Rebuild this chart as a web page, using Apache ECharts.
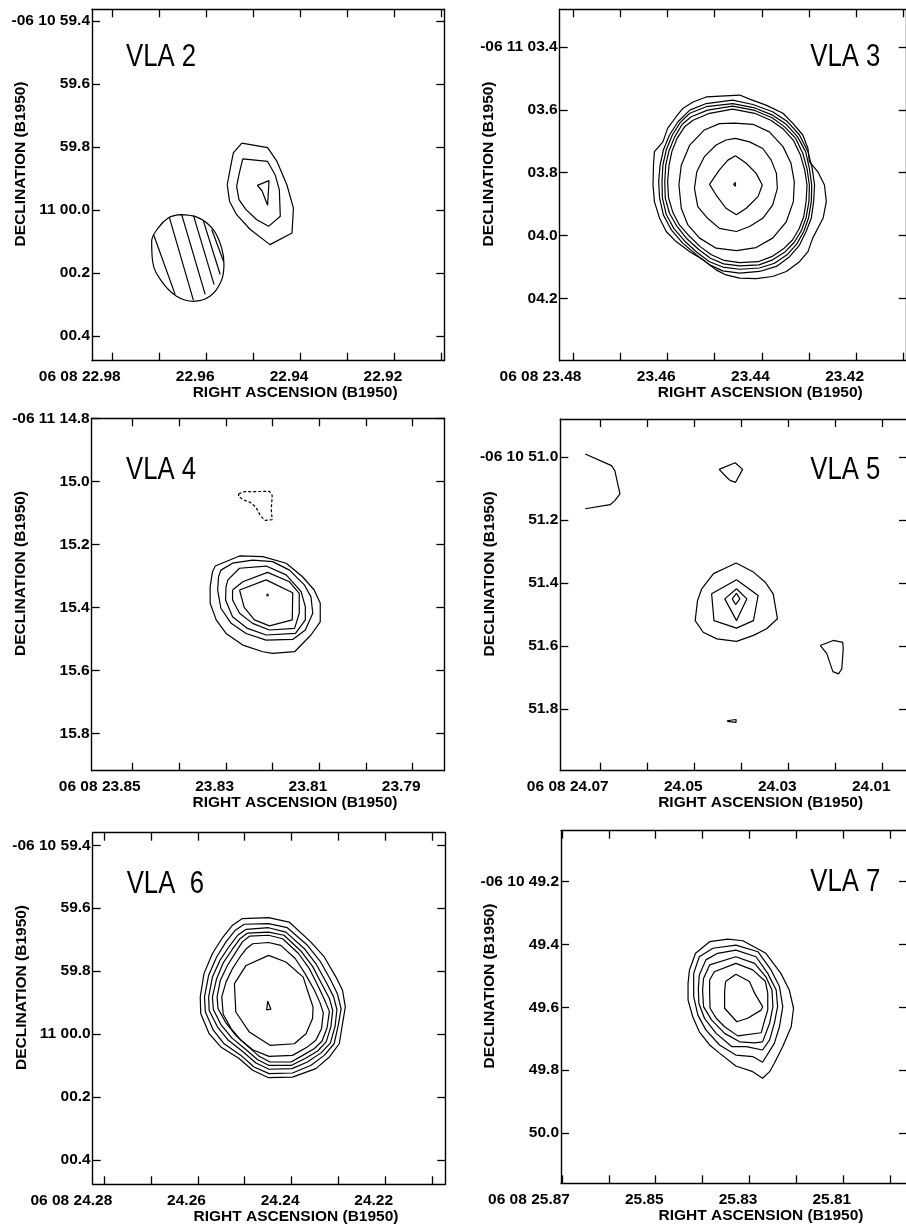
<!DOCTYPE html>
<html><head><meta charset="utf-8">
<script src="https://cdn.jsdelivr.net/npm/echarts@6.0.0/dist/echarts.min.js"></script>
<style>html,body{margin:0;padding:0;background:#fff}#c{width:906px;height:1224px}</style>
</head><body><div id="c"></div>
<script>
// ---------- tick values / labels ----------
const vla2RaTicks = [22.98,22.97,22.96,22.95,22.94,22.93,22.92,22.91];
const vla2RaLabelVals = [22.98,22.96,22.94,22.92];
const vla2RaLabels = ['06 08 22.98','22.96','22.94','22.92'];
const vla2DecTicks = [59.4,59.6,59.8,60.0,60.2,60.4];
const vla2DecLabels = ['-06 10 59.4','59.6','59.8','11 00.0','00.2','00.4'];

const vla3RaTicks = [23.48,23.47,23.46,23.45,23.44,23.43,23.42,23.41];
const vla3RaLabelVals = [23.48,23.46,23.44,23.42];
const vla3RaLabels = ['06 08 23.48','23.46','23.44','23.42'];
const vla3DecTicks = [3.4,3.6,3.8,4.0,4.2];
const vla3DecLabels = ['-06 11 03.4','03.6','03.8','04.0','04.2'];

const vla4RaTicks = [23.85,23.84,23.83,23.82,23.81,23.80,23.79];
const vla4RaLabelVals = [23.85,23.83,23.81,23.79];
const vla4RaLabels = ['06 08 23.85','23.83','23.81','23.79'];
const vla4DecTicks = [14.8,15.0,15.2,15.4,15.6,15.8];
const vla4DecLabels = ['-06 11 14.8','15.0','15.2','15.4','15.6','15.8'];

const vla5RaTicks = [24.07,24.06,24.05,24.04,24.03,24.02,24.01];
const vla5RaLabelVals = [24.07,24.05,24.03,24.01];
const vla5RaLabels = ['06 08 24.07','24.05','24.03','24.01'];
const vla5DecTicks = [51.0,51.2,51.4,51.6,51.8];
const vla5DecLabels = ['-06 10 51.0','51.2','51.4','51.6','51.8'];

const vla6RaTicks = [24.28,24.27,24.26,24.25,24.24,24.23,24.22,24.21];
const vla6RaLabelVals = [24.28,24.26,24.24,24.22];
const vla6RaLabels = ['06 08 24.28','24.26','24.24','24.22'];
const vla6DecTicks = [59.4,59.6,59.8,60.0,60.2,60.4];
const vla6DecLabels = ['-06 10 59.4','59.6','59.8','11 00.0','00.2','00.4'];

const vla7RaTicks = [25.87,25.86,25.85,25.84,25.83,25.82,25.81,25.80];
const vla7RaLabelVals = [25.87,25.85,25.83,25.81];
const vla7RaLabels = ['06 08 25.87','25.85','25.83','25.81'];
const vla7DecTicks = [49.2,49.4,49.6,49.8,50.0];
const vla7DecLabels = ['-06 10 49.2','49.4','49.6','49.8','50.0'];

// ---------- contours: [RA seconds, Dec arcsec] ----------
// VLA 2
const vla2C1 = [[22.9525,59.788],[22.9470,59.802],[22.9450,59.846],[22.9429,59.920],[22.9415,59.994],[22.9418,60.073],[22.9465,60.110],[22.9507,60.062],[22.9536,60.015],[22.9551,59.973],[22.9556,59.920],[22.9548,59.856],[22.9543,59.819]];
const vla2C2 = [[22.9523,59.838],[22.9470,59.846],[22.9454,59.888],[22.9445,59.936],[22.9443,60.020],[22.9468,60.052],[22.9493,60.031],[22.9516,59.999],[22.9531,59.967],[22.9536,59.925],[22.9531,59.888]];
const vla2C3 = [[22.9492,59.922],[22.9467,59.907],[22.9470,59.985],[22.9482,59.939]];
const vla2Beam = [[22.9657,60.015],[22.9617,60.025],[22.9586,60.062],[22.9568,60.120],[22.9563,60.173],[22.9569,60.226],[22.9593,60.274],[22.9628,60.290],[22.9664,60.274],[22.9696,60.226],[22.9715,60.163],[22.9717,60.100],[22.9703,60.057],[22.9681,60.025]];
const vla2Hatch1 = [[22.9713,60.078],[22.9667,60.268]];
const vla2Hatch2 = [[22.9679,60.025],[22.9628,60.287]];
const vla2Hatch3 = [[22.9653,60.015],[22.9603,60.268]];
const vla2Hatch4 = [[22.9628,60.017],[22.9584,60.237]];
const vla2Hatch5 = [[22.9607,60.034],[22.9571,60.205]];
const vla2Hatch6 = [[22.9589,60.062],[22.9564,60.163]];

// VLA 3
const vla3C1 = [[23.4456,3.8305],[23.4452,3.8368],[23.4456,3.8432],[23.4460,3.8368]];
const vla3C2 = [[23.4456,3.746],[23.4433,3.770],[23.4412,3.802],[23.4399,3.839],[23.4408,3.876],[23.4433,3.913],[23.4454,3.934],[23.4476,3.913],[23.4497,3.871],[23.4511,3.837],[23.4490,3.791],[23.4472,3.760]];
const vla3C3 = [[23.4456,3.691],[23.4426,3.702],[23.4398,3.723],[23.4380,3.760],[23.4369,3.802],[23.4367,3.850],[23.4377,3.903],[23.4398,3.945],[23.4426,3.971],[23.4454,3.987],[23.4490,3.977],[23.4515,3.945],[23.4536,3.908],[23.4543,3.850],[23.4538,3.797],[23.4522,3.749],[23.4497,3.712],[23.4476,3.696]];
const vla3C4 = [[23.4458,3.642],[23.4419,3.646],[23.4384,3.670],[23.4355,3.717],[23.4338,3.770],[23.4331,3.829],[23.4333,3.892],[23.4348,3.956],[23.4377,4.008],[23.4412,4.038],[23.4454,4.048],[23.4497,4.040],[23.4532,4.008],[23.4557,3.966],[23.4571,3.913],[23.4576,3.839],[23.4571,3.776],[23.4553,3.712],[23.4522,3.664],[23.4490,3.644]];
const vla3C5 = [[23.4546,3.633],[23.4511,3.611],[23.4462,3.598],[23.4415,3.611],[23.4380,3.634],[23.4354,3.662],[23.4333,3.697],[23.4318,3.744],[23.4309,3.791],[23.4304,3.839],[23.4306,3.892],[23.4311,3.940],[23.4321,3.979],[23.4335,4.014],[23.4354,4.042],[23.4379,4.067],[23.4408,4.083],[23.4447,4.086],[23.4480,4.079],[23.4507,4.061],[23.4531,4.035],[23.4553,4.003],[23.4575,3.966],[23.4589,3.926],[23.4598,3.879],[23.4600,3.829],[23.4597,3.777],[23.4591,3.733],[23.4580,3.691],[23.4564,3.654]];
const vla3C6 = [[23.4550,3.622],[23.4515,3.601],[23.4462,3.588],[23.4415,3.602],[23.4378,3.625],[23.4351,3.655],[23.4328,3.691],[23.4313,3.738],[23.4304,3.788],[23.4299,3.839],[23.4300,3.892],[23.4306,3.943],[23.4316,3.984],[23.4331,4.021],[23.4350,4.051],[23.4377,4.077],[23.4406,4.093],[23.4447,4.096],[23.4481,4.090],[23.4509,4.072],[23.4534,4.044],[23.4559,4.010],[23.4580,3.971],[23.4596,3.929],[23.4605,3.881],[23.4606,3.829],[23.4604,3.776],[23.4597,3.730],[23.4585,3.686],[23.4569,3.646]];
const vla3C7 = [[23.4553,3.611],[23.4518,3.590],[23.4462,3.580],[23.4415,3.594],[23.4377,3.617],[23.4348,3.646],[23.4324,3.686],[23.4307,3.733],[23.4299,3.786],[23.4294,3.839],[23.4295,3.892],[23.4301,3.945],[23.4311,3.987],[23.4326,4.027],[23.4345,4.059],[23.4373,4.088],[23.4405,4.103],[23.4447,4.107],[23.4483,4.100],[23.4511,4.083],[23.4538,4.053],[23.4564,4.017],[23.4587,3.977],[23.4603,3.932],[23.4611,3.881],[23.4612,3.829],[23.4610,3.776],[23.4603,3.728],[23.4590,3.680],[23.4573,3.640]];
const vla3C8 = [[23.4553,3.601],[23.4518,3.580],[23.4462,3.569],[23.4419,3.583],[23.4377,3.606],[23.4345,3.638],[23.4320,3.680],[23.4302,3.733],[23.4293,3.786],[23.4288,3.839],[23.4290,3.892],[23.4295,3.945],[23.4306,3.987],[23.4320,4.030],[23.4341,4.067],[23.4369,4.098],[23.4405,4.114],[23.4447,4.119],[23.4483,4.112],[23.4511,4.093],[23.4539,4.061],[23.4568,4.024],[23.4592,3.982],[23.4609,3.934],[23.4617,3.881],[23.4619,3.829],[23.4616,3.776],[23.4609,3.728],[23.4596,3.680],[23.4578,3.638]];
const vla3C9 = [[23.4546,3.575],[23.4518,3.559],[23.4447,3.553],[23.4426,3.566],[23.4391,3.585],[23.4355,3.611],[23.4334,3.643],[23.4313,3.680],[23.4302,3.723],[23.4299,3.765],[23.4281,3.797],[23.4267,3.839],[23.4263,3.892],[23.4270,3.945],[23.4292,4.008],[23.4302,4.051],[23.4320,4.083],[23.4348,4.114],[23.4377,4.130],[23.4412,4.137],[23.4447,4.135],[23.4476,4.125],[23.4497,4.109],[23.4525,4.077],[23.4553,4.051],[23.4582,4.019],[23.4603,3.987],[23.4617,3.945],[23.4628,3.892],[23.4631,3.839],[23.4630,3.776],[23.4628,3.733],[23.4610,3.702],[23.4600,3.659],[23.4582,3.622],[23.4568,3.596]];

// VLA 4
const vla4Neg = [[23.8273,15.040],[23.8261,15.033],[23.8207,15.032],[23.8201,15.045],[23.8203,15.091],[23.8201,15.122],[23.8216,15.124],[23.8226,15.110],[23.8236,15.082],[23.8248,15.067],[23.8264,15.058],[23.8273,15.048]];
const vla4C1 = [[23.8323,15.269],[23.8271,15.237],[23.8221,15.239],[23.8171,15.260],[23.8136,15.303],[23.8111,15.345],[23.8098,15.387],[23.8098,15.446],[23.8118,15.488],[23.8153,15.541],[23.8200,15.546],[23.8221,15.541],[23.8264,15.520],[23.8300,15.483],[23.8321,15.440],[23.8334,15.387],[23.8334,15.335],[23.8329,15.287]];
const vla4C2 = [[23.8311,15.282],[23.8286,15.260],[23.8243,15.250],[23.8200,15.255],[23.8164,15.282],[23.8132,15.329],[23.8118,15.366],[23.8114,15.419],[23.8130,15.472],[23.8157,15.502],[23.8214,15.504],[23.8257,15.483],[23.8289,15.451],[23.8311,15.403],[23.8318,15.345],[23.8316,15.303]];
const vla4C3 = [[23.8296,15.313],[23.8271,15.276],[23.8214,15.269],[23.8171,15.297],[23.8139,15.350],[23.8130,15.398],[23.8130,15.440],[23.8151,15.483],[23.8214,15.488],[23.8254,15.467],[23.8286,15.430],[23.8301,15.377],[23.8300,15.335]];
const vla4C4 = [[23.8286,15.345],[23.8264,15.319],[23.8211,15.289],[23.8164,15.319],[23.8143,15.356],[23.8143,15.419],[23.8153,15.467],[23.8207,15.472],[23.8243,15.451],[23.8271,15.419],[23.8286,15.377]];
const vla4C5 = [[23.8271,15.345],[23.8214,15.313],[23.8157,15.354],[23.8158,15.440],[23.8207,15.459],[23.8239,15.440],[23.8261,15.400]];
const vla4Peak = [[23.8211,15.361]];

// VLA 5
const vla5Edge = [[24.0733,50.991],[24.0677,51.028],[24.0670,51.044],[24.0659,51.118],[24.0670,51.139],[24.0680,51.152],[24.0733,51.165]];
const vla5North = [[24.0448,51.040],[24.0414,51.019],[24.0398,51.040],[24.0413,51.081],[24.0425,51.075],[24.0432,51.065]];
const vla5C1 = [[24.0412,51.337],[24.0375,51.366],[24.0350,51.398],[24.0333,51.435],[24.0324,51.514],[24.0347,51.546],[24.0375,51.567],[24.0411,51.586],[24.0453,51.578],[24.0482,51.557],[24.0499,51.520],[24.0494,51.456],[24.0485,51.419],[24.0460,51.371],[24.0439,51.356]];
const vla5C2 = [[24.0411,51.390],[24.0365,51.440],[24.0375,51.520],[24.0411,51.544],[24.0459,51.520],[24.0464,51.435]];
const vla5C3 = [[24.0411,51.419],[24.0389,51.451],[24.0411,51.520],[24.0436,51.451]];
const vla5C4 = [[24.0411,51.433],[24.0404,51.451],[24.0413,51.469],[24.0420,51.451]];
const vla5SE = [[24.0233,51.599],[24.0205,51.583],[24.0185,51.589],[24.0184,51.610],[24.0187,51.673],[24.0194,51.689],[24.0206,51.682],[24.0219,51.625]];
const vla5South = [[24.0431,51.838],[24.0412,51.834],[24.0408,51.839],[24.0412,51.843],[24.0431,51.840]];

// VLA 6
const vla6C1 = [[24.2451,59.895],[24.2444,59.921],[24.2453,59.923]];
const vla6C2 = [[24.2449,59.750],[24.2412,59.771],[24.2375,59.819],[24.2366,59.861],[24.2354,59.914],[24.2355,59.951],[24.2369,59.999],[24.2394,60.031],[24.2446,60.036],[24.2490,59.994],[24.2519,59.930],[24.2522,59.840],[24.2497,59.782]];
const vla6C3 = [[24.2483,59.713],[24.2449,59.709],[24.2423,59.718],[24.2392,59.760],[24.2371,59.808],[24.2351,59.861],[24.2339,59.901],[24.2332,59.933],[24.2336,59.983],[24.2348,60.020],[24.2366,60.041],[24.2398,60.068],[24.2448,60.071],[24.2483,60.050],[24.2508,60.020],[24.2529,59.983],[24.2546,59.937],[24.2549,59.882],[24.2540,59.835],[24.2526,59.792],[24.2510,59.755],[24.2496,59.728]];
const vla6C4 = [[24.2490,59.689],[24.2449,59.686],[24.2419,59.697],[24.2385,59.744],[24.2362,59.792],[24.2342,59.851],[24.2329,59.893],[24.2319,59.928],[24.2324,59.980],[24.2335,60.023],[24.2351,60.046],[24.2376,60.068],[24.2401,60.089],[24.2446,60.089],[24.2469,60.071],[24.2492,60.041],[24.2519,60.004],[24.2540,59.965],[24.2557,59.919],[24.2559,59.882],[24.2552,59.829],[24.2537,59.782],[24.2520,59.742],[24.2505,59.707]];
const vla6C5 = [[24.2494,59.679],[24.2449,59.676],[24.2416,59.686],[24.2380,59.736],[24.2355,59.785],[24.2334,59.845],[24.2319,59.887],[24.2312,59.925],[24.2316,59.978],[24.2326,60.025],[24.2344,60.054],[24.2371,60.078],[24.2401,60.100],[24.2448,60.100],[24.2473,60.081],[24.2497,60.050],[24.2527,60.013],[24.2550,59.972],[24.2567,59.922],[24.2569,59.882],[24.2560,59.824],[24.2546,59.774],[24.2527,59.732],[24.2510,59.697]];
const vla6C6 = [[24.2497,59.667],[24.2449,59.662],[24.2412,59.676],[24.2373,59.728],[24.2348,59.776],[24.2325,59.838],[24.2310,59.882],[24.2303,59.922],[24.2307,59.976],[24.2317,60.029],[24.2337,60.060],[24.2366,60.089],[24.2399,60.110],[24.2448,60.112],[24.2476,60.092],[24.2503,60.057],[24.2535,60.020],[24.2558,59.978],[24.2576,59.925],[24.2577,59.882],[24.2569,59.819],[24.2553,59.766],[24.2533,59.721],[24.2515,59.686]];
const vla6C7 = [[24.2501,59.651],[24.2449,59.649],[24.2409,59.662],[24.2366,59.718],[24.2339,59.768],[24.2316,59.829],[24.2302,59.872],[24.2294,59.919],[24.2300,59.972],[24.2309,60.031],[24.2330,60.068],[24.2359,60.100],[24.2398,60.124],[24.2448,60.126],[24.2480,60.105],[24.2508,60.068],[24.2544,60.031],[24.2567,59.988],[24.2584,59.930],[24.2586,59.882],[24.2577,59.813],[24.2560,59.755],[24.2540,59.707],[24.2520,59.670]];
const vla6C8 = [[24.2505,59.633],[24.2449,59.630],[24.2405,59.644],[24.2359,59.707],[24.2330,59.755],[24.2305,59.819],[24.2291,59.861],[24.2285,59.914],[24.2291,59.967],[24.2298,60.031],[24.2319,60.073],[24.2348,60.110],[24.2398,60.137],[24.2449,60.139],[24.2483,60.115],[24.2512,60.078],[24.2551,60.041],[24.2576,59.999],[24.2594,59.935],[24.2595,59.882],[24.2587,59.808],[24.2569,59.744],[24.2549,59.697],[24.2526,59.654]];

// VLA 7
const vla7C1 = [[25.8351,49.518],[25.8329,49.495],[25.8300,49.518],[25.8289,49.555],[25.8272,49.598],[25.8275,49.609],[25.8304,49.635],[25.8327,49.646],[25.8353,49.603],[25.8353,49.550]];
const vla7C2 = [[25.8385,49.513],[25.8375,49.487],[25.8329,49.460],[25.8293,49.481],[25.8266,49.518],[25.8261,49.555],[25.8261,49.609],[25.8268,49.643],[25.8275,49.681],[25.8325,49.691],[25.8353,49.662],[25.8371,49.635],[25.8384,49.603],[25.8385,49.555]];
const vla7C3 = [[25.8398,49.508],[25.8385,49.465],[25.8329,49.439],[25.8289,49.460],[25.8265,49.503],[25.8252,49.545],[25.8250,49.598],[25.8257,49.651],[25.8272,49.710],[25.8289,49.713],[25.8321,49.710],[25.8353,49.683],[25.8381,49.640],[25.8398,49.598],[25.8400,49.545]];
const vla7C4 = [[25.8407,49.497],[25.8393,49.449],[25.8368,49.428],[25.8329,49.418],[25.8286,49.439],[25.8261,49.492],[25.8243,49.545],[25.8240,49.598],[25.8247,49.651],[25.8257,49.704],[25.8272,49.736],[25.8307,49.725],[25.8338,49.725],[25.8371,49.683],[25.8396,49.635],[25.8408,49.587],[25.8409,49.539]];
const vla7C5 = [[25.8419,49.492],[25.8407,49.439],[25.8378,49.412],[25.8329,49.402],[25.8282,49.423],[25.8254,49.481],[25.8236,49.534],[25.8229,49.598],[25.8236,49.662],[25.8247,49.715],[25.8272,49.775],[25.8293,49.757],[25.8329,49.752],[25.8364,49.720],[25.8393,49.672],[25.8410,49.625],[25.8419,49.566]];
const vla7C6 = [[25.8428,49.481],[25.8415,49.428],[25.8385,49.391],[25.8346,49.383],[25.8314,49.388],[25.8265,49.428],[25.8233,49.492],[25.8215,49.545],[25.8206,49.603],[25.8211,49.662],[25.8229,49.725],[25.8247,49.778],[25.8257,49.805],[25.8272,49.826],[25.8293,49.805],[25.8329,49.787],[25.8364,49.746],[25.8385,49.720],[25.8407,49.678],[25.8421,49.630],[25.8431,49.577],[25.8431,49.524]];

// ---------- panel layout ----------
const FONT = '"Liberation Sans", Arial, Helvetica, sans-serif';
const panels = [
  {title:'VLA 2', tx:126, ty:57, grid:{left:92, top:9.3, width:352.3, height:351.4},
   ra:[22.90936,22.98441], dec:[59.3629,60.4786],
   raTicks:vla2RaTicks, raLabelVals:vla2RaLabelVals, raLabels:vla2RaLabels, decTicks:vla2DecTicks, decLabels:vla2DecLabels,
   closed:[vla2C1,vla2C2,vla2C3], smooth:[vla2Beam], open:[vla2Hatch1,vla2Hatch2,vla2Hatch3,vla2Hatch4,vla2Hatch5,vla2Hatch6], dashed:[], dots:[]},
  {title:'VLA 3', tx:810.3, ty:57, grid:{left:559.7, top:9.3, width:347, height:351.4},
   ra:[23.40924,23.48291], dec:[3.2803,4.3978],
   raTicks:vla3RaTicks, raLabelVals:vla3RaLabelVals, raLabels:vla3RaLabels, decTicks:vla3DecTicks, decLabels:vla3DecLabels,
   closed:[vla3C1,vla3C2,vla3C3,vla3C4,vla3C5,vla3C6,vla3C7,vla3C8,vla3C9], smooth:[], open:[], dashed:[], dots:[]},
  {title:'VLA 4', tx:126, ty:470.5, grid:{left:91.7, top:418.3, width:352.6, height:352.4},
   ra:[23.78321,23.85879], dec:[14.8,15.9187],
   raTicks:vla4RaTicks, raLabelVals:vla4RaLabelVals, raLabels:vla4RaLabels, decTicks:vla4DecTicks, decLabels:vla4DecLabels,
   closed:[vla4C1,vla4C2,vla4C3,vla4C4,vla4C5], smooth:[], open:[], dashed:[vla4Neg], dots:[vla4Peak]},
  {title:'VLA 5', tx:810.3, ty:470, grid:{left:560.3, top:419, width:346.7, height:351.7},
   ra:[24.00483,24.0786], dec:[50.880,51.9965],
   raTicks:vla5RaTicks, raLabelVals:vla5RaLabelVals, raLabels:vla5RaLabels, decTicks:vla5DecTicks, decLabels:vla5DecLabels,
   closed:[vla5North,vla5C1,vla5C2,vla5C3,vla5C4,vla5SE,vla5South], smooth:[], open:[vla5Edge], dashed:[], dots:[]},
  {title:'VLA  6', tx:126.7, ty:884.5, grid:{left:92.7, top:832.7, width:352.6, height:351.6},
   ra:[24.20714,24.28248], dec:[59.3599,60.4779],
   raTicks:vla6RaTicks, raLabelVals:vla6RaLabelVals, raLabels:vla6RaLabels, decTicks:vla6DecTicks, decLabels:vla6DecLabels,
   closed:[vla6C1,vla6C2,vla6C3,vla6C4,vla6C5,vla6C6,vla6C7,vla6C8], smooth:[], open:[], dashed:[], dots:[]},
  {title:'VLA 7', tx:810.3, ty:882.5, grid:{left:561, top:830.7, width:346, height:352.6},
   ra:[25.7964,25.8702], dec:[49.0376,50.1605],
   raTicks:vla7RaTicks, raLabelVals:vla7RaLabelVals, raLabels:vla7RaLabels, decTicks:vla7DecTicks, decLabels:vla7DecLabels,
   closed:[vla7C1,vla7C2,vla7C3,vla7C4,vla7C5,vla7C6], smooth:[], open:[], dashed:[], dots:[]}
];

function lookup(vals, labels) {
  return function (v) {
    for (let i = 0; i < vals.length; i++) if (Math.abs(vals[i] - v) < 1e-6) return labels[i];
    return '';
  };
}
const LINE = {color:'#000', width:1.4};
const TICK = {color:'#000', width:1.3};
const LBL = {color:'#000', fontFamily:FONT, fontWeight:'bold', fontSize:15.5};

const grids = [], xAxes = [], yAxes = [], series = [], graphics = [];
panels.forEach(function (p, i) {
  grids.push(Object.assign({show:false, containLabel:false, outerBoundsMode:'none'}, p.grid));
  xAxes.push({gridIndex:i, type:'value', position:'bottom', inverse:true, min:p.ra[0], max:p.ra[1],
    axisLine:{show:true, onZero:false, lineStyle:LINE},
    axisTick:{show:true, inside:true, length:8, customValues:p.raTicks, lineStyle:TICK},
    axisLabel:Object.assign({show:true, customValues:p.raLabelVals, formatter:lookup(p.raLabelVals, p.raLabels),
      align:'right', padding:[0,-8,0,0], margin:8, hideOverlap:false}, LBL),
    splitLine:{show:false},
    name:'RIGHT ASCENSION (B1950)', nameLocation:'middle', nameGap:24, nameMoveOverlap:false,
    nameTextStyle:Object.assign({padding:[0,0,0,54]}, LBL)});
  xAxes.push({gridIndex:i, type:'value', position:'top', inverse:true, min:p.ra[0], max:p.ra[1],
    axisLine:{show:true, onZero:false, lineStyle:LINE},
    axisTick:{show:true, inside:true, length:8, customValues:p.raTicks, lineStyle:TICK},
    axisLabel:{show:false}, splitLine:{show:false}});
  yAxes.push({gridIndex:i, type:'value', position:'left', inverse:true, min:p.dec[0], max:p.dec[1],
    axisLine:{show:true, onZero:false, lineStyle:LINE},
    axisTick:{show:true, inside:true, length:8, customValues:p.decTicks, lineStyle:TICK},
    axisLabel:Object.assign({show:true, customValues:p.decTicks, formatter:lookup(p.decTicks, p.decLabels), margin:2, hideOverlap:false}, LBL),
    splitLine:{show:false},
    name:'DECLINATION (B1950)', nameLocation:'middle', nameGap:63, nameMoveOverlap:false,
    nameTextStyle:Object.assign({padding:[0,0,0,42]}, LBL)});
  yAxes.push({gridIndex:i, type:'value', position:'right', inverse:true, min:p.dec[0], max:p.dec[1],
    axisLine:{show:true, onZero:false, lineStyle:LINE},
    axisTick:{show:true, inside:true, length:8, customValues:p.decTicks, lineStyle:TICK},
    axisLabel:{show:false}, splitLine:{show:false}});
  const base = {type:'line', xAxisIndex:2*i, yAxisIndex:2*i, symbol:'none', silent:true, animation:false};
  p.closed.forEach(function (c) {
    series.push(Object.assign({}, base, {data:c.concat([c[0]]), lineStyle:{color:'#000', width:1.2}}));
  });
  p.smooth.forEach(function (c) {
    series.push(Object.assign({}, base, {data:c.concat([c[0]]), smooth:0.4, lineStyle:{color:'#000', width:1.2}}));
  });
  p.open.forEach(function (c) {
    series.push(Object.assign({}, base, {data:c, lineStyle:{color:'#000', width:1.2}}));
  });
  p.dashed.forEach(function (c) {
    series.push(Object.assign({}, base, {data:c.concat([c[0]]), lineStyle:{color:'#000', width:1.2, type:[3,2]}}));
  });
  p.dots.forEach(function (c) {
    series.push({type:'scatter', xAxisIndex:2*i, yAxisIndex:2*i, data:c, symbol:'circle', symbolSize:3,
      itemStyle:{color:'#000'}, silent:true, animation:false});
  });
  graphics.push({type:'text', x:p.tx, y:p.ty, scaleX:0.83, silent:true,
    style:{text:p.title, fill:'#000', fontFamily:FONT, fontSize:31, fontWeight:'normal',
      textAlign:'left', textVerticalAlign:'middle', align:'left', verticalAlign:'middle'}});
});

const chart = echarts.init(document.getElementById('c'), null, {renderer:'canvas', width:906, height:1224});
chart.setOption({
  animation:false,
  backgroundColor:'#fff',
  grid:grids, xAxis:xAxes, yAxis:yAxes, series:series, graphic:graphics
});
</script></body></html>
